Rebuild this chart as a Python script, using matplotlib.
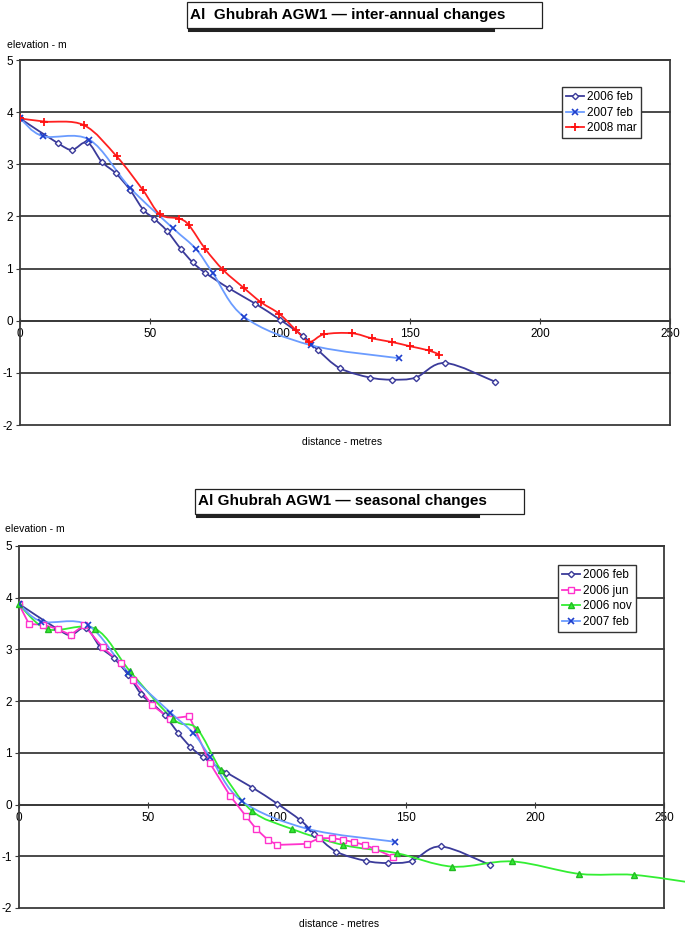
import matplotlib

matplotlib.use("Agg")
import matplotlib.pyplot as plt  # noqa: E402
from matplotlib.lines import Line2D  # noqa: E402
from matplotlib.patches import PathPatch, Rectangle  # noqa: E402
from matplotlib.path import Path  # noqa: E402

plt.rcParams["font.family"] = ["Liberation Sans", "DejaVu Sans"]

# 読み取り値 (distance m, elevation m)
feb06_x = [0, 14.7, 20.1, 25.9, 31.4, 36.8, 42.3, 47.4, 51.5, 56.4, 61.8, 66.4,
           71.2, 80.4, 90.4, 100.0, 109.0, 114.5, 123.0, 134.6, 143.2, 152.2, 163.5, 182.7]
feb06_y = [3.88, 3.40, 3.28, 3.42, 3.05, 2.83, 2.51, 2.13, 1.96, 1.73, 1.38, 1.12,
           0.92, 0.62, 0.33, 0.02, -0.30, -0.56, -0.91, -1.09, -1.13, -1.09, -0.81, -1.17]

feb07_x = [0, 8.7, 26.7, 42.3, 58.7, 67.6, 74.1, 86.3, 111.9, 145.9]
feb07_y = [3.88, 3.54, 3.47, 2.55, 1.78, 1.38, 0.92, 0.07, -0.47, -0.72]

mar08_x = [0, 9.4, 24.6, 37.2, 47.2, 53.8, 61.2, 65.0, 71.2, 78.2, 86.3, 92.8,
           99.8, 106.1, 111.3, 117.0, 127.6, 135.5, 143.2, 150.0, 157.2, 161.3]
mar08_y = [3.88, 3.82, 3.75, 3.15, 2.51, 2.04, 1.96, 1.83, 1.38, 0.97, 0.62, 0.35,
           0.13, -0.18, -0.40, -0.26, -0.24, -0.34, -0.41, -0.49, -0.57, -0.65]

jun06_x = [0, 3.9, 9.4, 15.2, 20.0, 25.2, 32.4, 39.4, 44.3, 51.7, 58.5, 66.0, 74.0,
           81.8, 87.9, 91.9, 96.4, 100.1, 111.5, 116.4, 121.2, 125.5, 130.0, 134.1, 138.0, 144.8]
jun06_y = [3.87, 3.49, 3.48, 3.39, 3.28, 3.47, 3.04, 2.74, 2.40, 1.92, 1.66, 1.71, 0.80,
           0.17, -0.22, -0.47, -0.68, -0.78, -0.76, -0.65, -0.65, -0.68, -0.73, -0.78, -0.86, -1.01]

nov06_x = [0, 11.1, 29.5, 43.0, 59.8, 68.9, 78.2, 90.2, 105.7, 125.5, 146.4, 168.0,
           191.2, 217.2, 238.4, 262.0]
nov06_y = [3.87, 3.39, 3.40, 2.58, 1.65, 1.47, 0.67, -0.12, -0.47, -0.78, -0.94, -1.20,
           -1.10, -1.34, -1.36, -1.52]

X_TICKS = [0, 50, 100, 150, 200, 250]
Y_TICKS = [-2, -1, 0, 1, 2, 3, 4, 5]

W, H = 685, 931
GRID = "#3a3a3a"


def px_box(left, top, right, bottom):
    """ピクセル座標 (左上原点) -> figure 座標の [l, b, w, h]"""
    return [left / W, 1 - bottom / H, (right - left) / W, (bottom - top) / H]


def smooth_path(xs, ys, k=1 / 6):
    """Excel の「スムージング線」相当 (Catmull-Rom を Bezier で描く)"""
    pts = list(zip(xs, ys))
    n = len(pts)
    verts, codes = [pts[0]], [Path.MOVETO]
    for i in range(n - 1):
        p0, p1 = pts[max(i - 1, 0)], pts[i]
        p2, p3 = pts[i + 1], pts[min(i + 2, n - 1)]
        c1 = (p1[0] + (p2[0] - p0[0]) * k, p1[1] + (p2[1] - p0[1]) * k)
        c2 = (p2[0] - (p3[0] - p1[0]) * k, p2[1] - (p3[1] - p1[1]) * k)
        verts += [c1, c2, p2]
        codes += [Path.CURVE4] * 3
    return Path(verts, codes)


def series(ax, xs, ys, color, label, marker, ms, mec, mfc, mew=1.0, smooth=True, clip=True):
    if smooth:
        ax.add_patch(PathPatch(smooth_path(xs, ys), fill=False, edgecolor=color,
                               linewidth=1.3, clip_on=clip, zorder=3))
    else:
        ax.plot(xs, ys, color=color, linewidth=1.3, zorder=3)
    ax.plot(xs, ys, ls="none", marker=marker, ms=ms, mec=mec, mfc=mfc, mew=mew,
            clip_on=clip, zorder=4)
    return Line2D([], [], color=color, linewidth=1.3, marker=marker, ms=ms,
                  mec=mec, mfc=mfc, mew=mew, label=label)


def setup(ax):
    ax.set_xlim(0, 250)
    ax.set_ylim(-2, 5)
    ax.spines["bottom"].set_position(("data", 0))
    for s in ax.spines.values():
        s.set_color(GRID)
        s.set_linewidth(1.3)
    for yv in Y_TICKS:
        ax.axhline(yv, color=GRID, linewidth=1.3, zorder=1, clip_on=False)
    ax.set_xticks(X_TICKS, [str(v) for v in X_TICKS])
    ax.set_yticks(Y_TICKS, [str(v) for v in Y_TICKS])
    ax.tick_params(axis="x", direction="inout", length=5, labelsize=8.5, pad=2.5, color=GRID)
    ax.tick_params(axis="y", direction="out", length=3, labelsize=8.5, pad=2, color=GRID)


def title_box(fig, text, left, top, right, bottom, shadow_right):
    fig.add_artist(Rectangle((left / W, 1 - bottom / H), (right - left) / W, (bottom - top) / H,
                             transform=fig.transFigure, facecolor="white",
                             edgecolor="#222222", linewidth=0.9))
    y_sh = 1 - (bottom + 1.5) / H
    fig.add_artist(Line2D([(left + 2) / W, shadow_right / W], [y_sh, y_sh],
                          transform=fig.transFigure, color="#222222", linewidth=2.2))
    fig.text((left + 3) / W, 1 - (top + bottom) / 2 / H, text, fontsize=11,
             fontweight="bold", ha="left", va="center")


def legend(ax, fig, handles, left, top):
    leg = ax.legend(handles=handles, loc="upper left", bbox_to_anchor=(left / W, 1 - top / H),
                    bbox_transform=fig.transFigure, fancybox=False, framealpha=1,
                    edgecolor="#333333", fontsize=8.5, handlelength=1.5, handletextpad=0.25,
                    borderpad=0.35, labelspacing=0.3, borderaxespad=0)
    leg.get_frame().set_linewidth(1.0)


fig = plt.figure(figsize=(6.85, 9.31), dpi=100)

# --- 上段: inter-annual changes ---
ax1 = fig.add_axes(px_box(20, 60, 670, 425))
setup(ax1)
h1 = [
    series(ax1, feb06_x, feb06_y, "#3b3b9a", "2006 feb", "D", 3.2, "#3b3b9a", "white"),
    series(ax1, feb07_x, feb07_y, "#6b9cff", "2007 feb", "x", 4.5, "#1f3fcc", "none", 1.2),
    series(ax1, mar08_x, mar08_y, "#ff2020", "2008 mar", "+", 5.5, "#ff1010", "none", 1.3),
]
legend(ax1, fig, h1, 562, 87)
title_box(fig, "Al  Ghubrah AGW1 \u2014 inter-annual changes", 187, 2, 542, 28, 493)
fig.text(7 / W, 1 - 45 / H, "elevation - m", fontsize=7.5, ha="left", va="center")
fig.text(342 / W, 1 - 442 / H, "distance - metres", fontsize=7.5, ha="center", va="center")

# --- 下段: seasonal changes ---
ax2 = fig.add_axes(px_box(19, 546, 664, 908))
setup(ax2)
h2 = [
    series(ax2, feb06_x, feb06_y, "#3b3b9a", "2006 feb", "D", 3.2, "#3b3b9a", "white"),
    series(ax2, jun06_x, jun06_y, "#ff33cc", "2006 jun", "s", 3.8, "#ff33cc", "white",
           smooth=False),
    series(ax2, nov06_x, nov06_y, "#33ee33", "2006 nov", "^", 4.2, "#22bb22", "#33ee33",
           clip=False),
    series(ax2, feb07_x, feb07_y, "#6b9cff", "2007 feb", "x", 4.5, "#1f3fcc", "none", 1.2),
]
legend(ax2, fig, h2, 558, 565)
title_box(fig, "Al Ghubrah AGW1 \u2014 seasonal changes", 195, 489, 524, 514, 478)
fig.text(5 / W, 1 - 529 / H, "elevation - m", fontsize=7.5, ha="left", va="center")
fig.text(339 / W, 1 - 924 / H, "distance - metres", fontsize=7.5, ha="center", va="center")

fig.savefig("out.png", dpi=100)
